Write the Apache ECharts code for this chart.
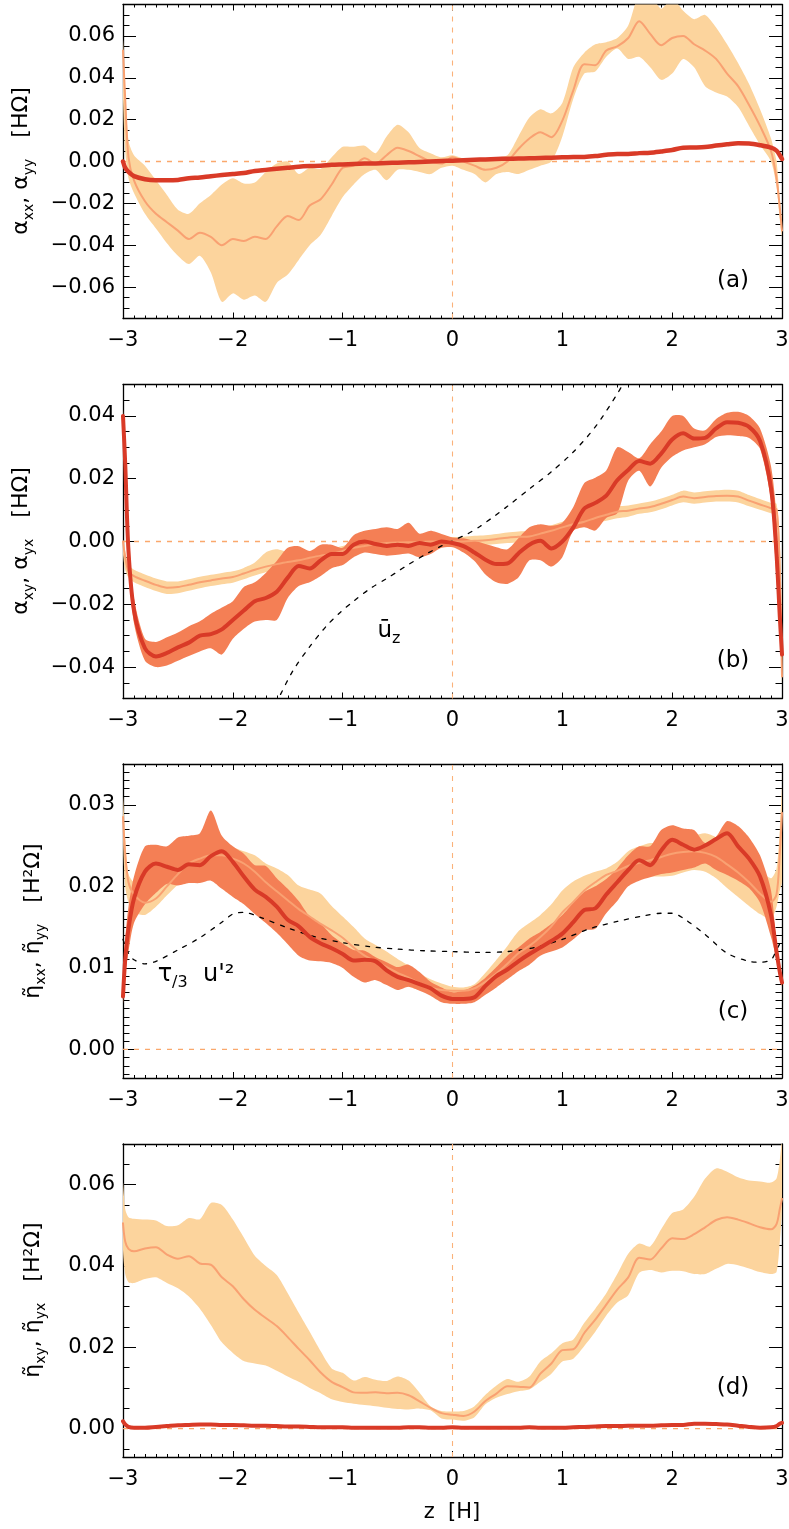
<!DOCTYPE html>
<html><head><meta charset="utf-8">
<script src="https://cdn.jsdelivr.net/npm/echarts@6/dist/echarts.min.js"></script>
<style>html,body{margin:0;padding:0;background:#fff}#c{width:789px;height:1529px}</style>
</head><body><div id="c"></div>
<script>
const zGrid = [-3, -2.98, -2.95, -2.9, -2.8, -2.7, -2.6, -2.5, -2.4, -2.3,
 -2.2, -2.1, -2.0, -1.9, -1.8, -1.7, -1.6, -1.5, -1.4, -1.3,
 -1.2, -1.1, -1.0, -0.9, -0.8, -0.7, -0.6, -0.5, -0.4, -0.3,
 -0.2, -0.1, 0, 0.1, 0.2, 0.3, 0.4, 0.5, 0.6, 0.7,
 0.8, 0.9, 1.0, 1.1, 1.2, 1.3, 1.4, 1.5, 1.6, 1.7,
 1.8, 1.9, 2.0, 2.1, 2.2, 2.3, 2.4, 2.5, 2.6, 2.7,
 2.8, 2.9, 2.95, 2.98, 3.0];
const xTicks = [-3, -2, -1, 0, 1, 2, 3];

// panel (a)
const aLightLine = [0.053, 0.03, 0.002, -0.009, -0.019, -0.025, -0.029, -0.033, -0.037, -0.034,
 -0.036, -0.040, -0.037, -0.038, -0.036, -0.037, -0.031, -0.026, -0.028, -0.021,
 -0.018, -0.011, -0.003, -0.002, 0.0015, -0.001, 0.003, 0.0066, 0.005, 0.0025,
 0.0, -0.001, 0.002, 0.0, -0.002, -0.004, -0.003, 0.0, 0.006, 0.011,
 0.014, 0.0116, 0.0195, 0.034, 0.0465, 0.046, 0.053, 0.055, 0.059, 0.067,
 0.061, 0.0555, 0.059, 0.06, 0.056, 0.053, 0.049, 0.042, 0.036, 0.027,
 0.017, 0.005, -0.008, -0.022, -0.033];
const aLightHi = [0.058, 0.035, 0.01, 0.003, -0.002, -0.009, -0.016, -0.023, -0.025, -0.020,
 -0.016, -0.011, -0.008, -0.0105, -0.010, -0.005, -0.001, 0.0, -0.006, -0.003,
 -0.0035, 0.002, 0.007, 0.007, 0.0075, 0.004, 0.012, 0.0176, 0.014, 0.0065,
 0.004, 0.002, 0.003, 0.0015, 0.0014, 0.0014, 0.002, 0.003, 0.012, 0.021,
 0.025, 0.023, 0.028, 0.045, 0.052, 0.056, 0.057, 0.059, 0.065, 0.08,
 0.08, 0.073, 0.078, 0.072, 0.068, 0.07, 0.064, 0.056, 0.047, 0.037,
 0.025, 0.011, 0.0, -0.018, -0.03];
const aLightLo = [0.03, 0.005, -0.008, -0.015, -0.025, -0.032, -0.039, -0.045, -0.049, -0.045,
 -0.053, -0.067, -0.063, -0.066, -0.064, -0.067, -0.058, -0.054, -0.047, -0.040,
 -0.035, -0.026, -0.017, -0.011, -0.006, -0.004, -0.009, -0.004, -0.004, -0.005,
 -0.006, -0.003, -0.002, -0.004, -0.006, -0.010, -0.006, -0.005, -0.006, -0.004,
 -0.002, 0.0, 0.012, 0.03, 0.042, 0.043, 0.05, 0.054, 0.049, 0.05,
 0.045, 0.039, 0.042, 0.049, 0.045, 0.036, 0.033, 0.031, 0.026, 0.017,
 0.008, 0.0, -0.012, -0.028, -0.036];
const aDarkLine = [0.0, -0.003, -0.005, -0.007, -0.0085, -0.009, -0.009, -0.0088, -0.008, -0.0076,
 -0.007, -0.0065, -0.006, -0.0055, -0.0045, -0.004, -0.0035, -0.003, -0.0025, -0.0022,
 -0.002, -0.0016, -0.0014, -0.0012, -0.001, -0.0009, -0.0007, -0.0006, -0.0004, -0.0002,
 0.0, 0.0002, 0.0004, 0.0006, 0.0008, 0.001, 0.0012, 0.0013, 0.0014, 0.0015,
 0.0017, 0.0018, 0.002, 0.0021, 0.0022, 0.0026, 0.0032, 0.0036, 0.0036, 0.004,
 0.0042, 0.0048, 0.0055, 0.0066, 0.0067, 0.0069, 0.0076, 0.0082, 0.0087, 0.0086,
 0.0078, 0.0066, 0.0052, 0.003, 0.0012];

// panel (b)
const bLightLine = [0.0, -0.005, -0.0095, -0.011, -0.0125, -0.0138, -0.0147, -0.0145, -0.0138, -0.013,
 -0.0124, -0.0118, -0.0113, -0.0102, -0.009, -0.008, -0.0072, -0.0065, -0.006, -0.0052,
 -0.0045, -0.004, -0.003, -0.002, -0.0014, -0.0009, -0.0005, -0.0003, -0.0002, -0.0002,
 0.0, 0.0, 0.0, 0.0, 0.0002, 0.0004, 0.0008, 0.0012, 0.0015, 0.0016,
 0.0025, 0.0034, 0.0045, 0.0055, 0.0063, 0.0075, 0.0085, 0.0095, 0.0098, 0.0105,
 0.011, 0.012, 0.0132, 0.0143, 0.0138, 0.0142, 0.0145, 0.0146, 0.0143, 0.013,
 0.0118, 0.0106, 0.0102, -0.01, -0.043];
const bLightHi = [0.0005, -0.003, -0.0075, -0.009, -0.0105, -0.0118, -0.0127, -0.0127, -0.012, -0.0112,
 -0.0106, -0.01, -0.0095, -0.0084, -0.0067, -0.0035, -0.0025, -0.0035, -0.0042, -0.0035,
 -0.0027, -0.0022, -0.0014, -0.0004, 0.0004, 0.0008, 0.0011, 0.0013, 0.0014, 0.0014,
 0.0015, 0.0015, 0.0014, 0.0015, 0.0018, 0.002, 0.0024, 0.0029, 0.0032, 0.0034,
 0.0043, 0.0052, 0.0063, 0.0073, 0.0081, 0.0092, 0.0101, 0.0112, 0.0115, 0.0121,
 0.0127, 0.0137, 0.0149, 0.0162, 0.0156, 0.016, 0.0163, 0.0165, 0.0162, 0.0148,
 0.0135, 0.0123, 0.012, 0.0, -0.03];
const bLightLo = [-0.004, -0.009, -0.0115, -0.013, -0.0145, -0.0158, -0.0167, -0.0165, -0.0157, -0.0149,
 -0.0142, -0.0136, -0.0131, -0.012, -0.0108, -0.0098, -0.009, -0.0083, -0.0078, -0.007,
 -0.0063, -0.0058, -0.0048, -0.0037, -0.0031, -0.0026, -0.0022, -0.002, -0.0019, -0.0018,
 -0.0016, -0.0015, -0.0014, -0.0014, -0.0013, -0.0011, -0.0008, -0.0005, -0.0002, 0.0,
 0.0008, 0.0017, 0.0028, 0.0038, 0.0046, 0.0058, 0.0066, 0.0074, 0.0079, 0.0088,
 0.0093, 0.0103, 0.0115, 0.0125, 0.012, 0.0124, 0.0127, 0.0127, 0.0124, 0.0112,
 0.0101, 0.009, 0.0085, -0.02, -0.045];
const bDarkLine = [0.040, 0.025, -0.003, -0.022, -0.034, -0.0366, -0.0355, -0.0337, -0.0322, -0.030,
 -0.0295, -0.028, -0.025, -0.022, -0.019, -0.018, -0.016, -0.0115, -0.0078, -0.0086,
 -0.006, -0.004, -0.004, -0.001, 0.0, -0.0008, -0.0014, -0.001, -0.0014, -0.0005,
 -0.001, 0.0, -0.0005, -0.0015, -0.0035, -0.0058, -0.0072, -0.007, -0.0038, -0.001,
 0.0002, -0.0022, 0.0, 0.0045, 0.0105, 0.0123, 0.0146, 0.0195, 0.0228, 0.0256,
 0.0248, 0.028, 0.0325, 0.0345, 0.0328, 0.033, 0.036, 0.038, 0.0378, 0.0365,
 0.032, 0.017, -0.004, -0.024, -0.036];
const bDarkHi = [0.042, 0.03, 0.002, -0.018, -0.031, -0.032, -0.0305, -0.029, -0.027, -0.0254,
 -0.023, -0.021, -0.019, -0.0145, -0.013, -0.01, -0.0062, -0.002, -0.0015, -0.003,
 -0.001, -0.001, -0.002, 0.002, 0.0034, 0.004, 0.0045, 0.004, 0.006, 0.0025,
 0.0034, 0.0024, 0.0013, 0.001, 0.0002, -0.0008, -0.0018, -0.0025, 0.001, 0.0045,
 0.0055, 0.005, 0.006, 0.011, 0.0186, 0.0203, 0.0226, 0.030, 0.0285, 0.0265,
 0.031, 0.035, 0.040, 0.040, 0.036, 0.0354, 0.039, 0.041, 0.0413, 0.040,
 0.036, 0.024, 0.008, -0.015, -0.033];
const bDarkLo = [0.038, 0.02, -0.007, -0.026, -0.038, -0.040, -0.0395, -0.038, -0.0365, -0.035,
 -0.034, -0.036, -0.031, -0.0278, -0.0255, -0.025, -0.025, -0.018, -0.0142, -0.013,
 -0.011, -0.0085, -0.0075, -0.005, -0.0035, -0.004, -0.0045, -0.0042, -0.0038, -0.005,
 -0.004, -0.002, -0.0018, -0.0035, -0.0062, -0.0105, -0.013, -0.0135, -0.0115, -0.006,
 -0.006, -0.008, -0.005, 0.0034, 0.0045, 0.0035, 0.0075, 0.009, 0.0194, 0.0225,
 0.0175, 0.0235, 0.027, 0.029, 0.030, 0.031, 0.0333, 0.0338, 0.0336, 0.033,
 0.0295, 0.013, -0.012, -0.03, -0.04];
const bUzZ = [-1.65, -1.57, -1.45, -1.3, -1.15, -1.02, -0.9, -0.75, -0.6, -0.51, -0.4, -0.24,
 -0.1, 0, 0.13, 0.25, 0.37, 0.5, 0.71, 0.9, 1.1, 1.3, 1.5, 1.58];
const bUz = [-0.055, -0.049, -0.041, -0.0335, -0.027, -0.0225, -0.019, -0.015, -0.0118, -0.0098, -0.0073, -0.004,
 -0.0014, 0.0003, 0.0023, 0.0048, 0.0078, 0.0112, 0.017, 0.0222, 0.0285, 0.0365, 0.047, 0.052];

// panel (c)
const cLightLine = [0.0285, 0.024, 0.0205, 0.019, 0.018, 0.0185, 0.020, 0.0215, 0.0228, 0.0234,
 0.0238, 0.0238, 0.0234, 0.0228, 0.0218, 0.0205, 0.0194, 0.0183, 0.0172, 0.0163,
 0.0154, 0.0146, 0.0137, 0.0125, 0.0115, 0.0108, 0.0101, 0.0094, 0.0088, 0.0081,
 0.0076, 0.0073, 0.0072, 0.0072, 0.0075, 0.0083, 0.0093, 0.0105, 0.0118, 0.0127,
 0.0138, 0.0151, 0.0168, 0.0181, 0.0195, 0.0205, 0.0214, 0.0219, 0.0225, 0.0229,
 0.0232, 0.0236, 0.024, 0.0242, 0.0243, 0.0241, 0.0236, 0.0227, 0.0217, 0.0205,
 0.0191, 0.0181, 0.019, 0.024, 0.029];
const cLightHi = [0.031, 0.026, 0.0215, 0.0205, 0.0205, 0.021, 0.0222, 0.0232, 0.024, 0.0245,
 0.025, 0.0252, 0.0248, 0.0243, 0.0238, 0.0228, 0.0222, 0.0214, 0.0201, 0.0196,
 0.0191, 0.0176, 0.0163, 0.015, 0.0136, 0.0128, 0.012, 0.0111, 0.0103, 0.0093,
 0.0086, 0.0081, 0.0077, 0.0076, 0.008, 0.0094, 0.011, 0.0127, 0.0145, 0.0155,
 0.0165, 0.0178, 0.0195, 0.0206, 0.0213, 0.0218, 0.0222, 0.023, 0.0243, 0.0249,
 0.0253, 0.0253, 0.0254, 0.0258, 0.0262, 0.0265, 0.026, 0.0248, 0.0238, 0.0229,
 0.0219, 0.021, 0.0222, 0.027, 0.032];
const cLightLo = [0.026, 0.02, 0.018, 0.0168, 0.0165, 0.0175, 0.0189, 0.0202, 0.0212, 0.0218,
 0.022, 0.022, 0.0218, 0.0207, 0.0192, 0.018, 0.0168, 0.0158, 0.0148, 0.0142,
 0.0137, 0.013, 0.0121, 0.011, 0.0102, 0.0094, 0.0088, 0.0082, 0.0077, 0.0073,
 0.0069, 0.0066, 0.0063, 0.0063, 0.0066, 0.0073, 0.0082, 0.0093, 0.0106, 0.0113,
 0.0122, 0.0131, 0.0145, 0.0159, 0.017, 0.018, 0.0189, 0.0198, 0.0207, 0.021,
 0.0212, 0.0212, 0.0213, 0.0217, 0.022, 0.0218, 0.021, 0.0198, 0.0187, 0.0176,
 0.0166, 0.016, 0.0175, 0.0195, 0.0205];
const cDarkLine = [0.0065, 0.011, 0.0148, 0.0185, 0.0218, 0.0228, 0.0224, 0.022, 0.0227, 0.0226,
 0.0237, 0.0243, 0.0230, 0.0212, 0.0196, 0.0187, 0.0175, 0.0159, 0.0151, 0.0138,
 0.013, 0.0124, 0.0117, 0.0109, 0.011, 0.0108, 0.0097, 0.0089, 0.0085, 0.008,
 0.0075, 0.0066, 0.0062, 0.0062, 0.0064, 0.0078, 0.009, 0.0098, 0.0108, 0.0117,
 0.0125, 0.0133, 0.0142, 0.0156, 0.0171, 0.0173, 0.019, 0.0205, 0.022, 0.0232,
 0.0226, 0.0244, 0.0257, 0.0251, 0.0245, 0.025, 0.0258, 0.0265, 0.0249, 0.0234,
 0.0212, 0.0165, 0.012, 0.0095, 0.0082];
const cDarkHi = [0.008, 0.0135, 0.0175, 0.0212, 0.0249, 0.0251, 0.0249, 0.026, 0.0262, 0.0265,
 0.0293, 0.0262, 0.0249, 0.024, 0.0226, 0.0225, 0.021, 0.0197, 0.0182, 0.0163,
 0.0154, 0.014, 0.013, 0.0122, 0.0121, 0.0113, 0.0107, 0.0101, 0.0104, 0.0095,
 0.0083, 0.0076, 0.007, 0.0072, 0.0078, 0.0088, 0.0101, 0.0115, 0.0125, 0.0136,
 0.0144, 0.0154, 0.0165, 0.018, 0.0193, 0.02, 0.0209, 0.0222, 0.0238, 0.0249,
 0.0249, 0.0269, 0.0275, 0.0271, 0.0269, 0.0253, 0.0261, 0.028, 0.0274, 0.026,
 0.0238, 0.0195, 0.013, 0.01, 0.0085];
const cDarkLo = [0.0055, 0.009, 0.012, 0.0155, 0.0178, 0.0192, 0.0203, 0.0201, 0.0204, 0.0204,
 0.0207, 0.0197, 0.0187, 0.0178, 0.0166, 0.0155, 0.0143, 0.0129, 0.0115, 0.0109,
 0.0108, 0.0106, 0.01, 0.0089, 0.0082, 0.0085, 0.0079, 0.0073, 0.0077, 0.0072,
 0.0066, 0.0058, 0.0056, 0.0056, 0.0058, 0.0067, 0.0076, 0.0086, 0.0096, 0.0104,
 0.0115, 0.012, 0.0125, 0.0135, 0.0146, 0.0148, 0.0167, 0.0182, 0.02, 0.0207,
 0.0211, 0.0215, 0.0217, 0.022, 0.0223, 0.0228, 0.022, 0.0214, 0.0207, 0.0198,
 0.018, 0.0138, 0.011, 0.0085, 0.0078];
const cTauZ = [-3, -2.95, -2.9, -2.8, -2.7, -2.5, -2.3, -2.1, -2.0, -1.9, -1.75, -1.5, -1.25, -1.0, -0.75, -0.5, -0.25,
 0, 0.25, 0.5, 0.75, 1.0, 1.25, 1.5, 1.75, 1.9, 2.0, 2.1, 2.3, 2.5, 2.7, 2.8, 2.9, 2.95, 3.0];
const cTau = [0.0135, 0.0118, 0.011, 0.0105, 0.0108, 0.0122, 0.0137, 0.0156, 0.0166, 0.0168, 0.0162, 0.0149, 0.0138, 0.0131, 0.0126, 0.0123, 0.0121,
 0.012, 0.0119, 0.012, 0.0125, 0.0135, 0.0148, 0.0157, 0.0164, 0.0167, 0.0167, 0.0161, 0.0141, 0.0118, 0.0108, 0.0107, 0.011, 0.0122, 0.0135];

// panel (d)
const dLightLine = [0.0505, 0.046, 0.0442, 0.0436, 0.0443, 0.0446, 0.0428, 0.0418, 0.0424, 0.0406,
 0.0403, 0.0372, 0.035, 0.0318, 0.0292, 0.0272, 0.0252, 0.0225, 0.0196, 0.0168,
 0.0138, 0.0115, 0.0102, 0.0089, 0.0088, 0.0089, 0.0087, 0.0088, 0.0082, 0.0067,
 0.0051, 0.0038, 0.0034, 0.0031, 0.0042, 0.0068, 0.0086, 0.0104, 0.0103, 0.0101,
 0.0135, 0.016, 0.0193, 0.0195, 0.0235, 0.0268, 0.0305, 0.0342, 0.0372, 0.042,
 0.0416, 0.0443, 0.0468, 0.0466, 0.0478, 0.0495, 0.0513, 0.052, 0.0514, 0.0505,
 0.0495, 0.049, 0.0503, 0.054, 0.0565];
const dLightHi = [0.0604, 0.054, 0.052, 0.0516, 0.0514, 0.0512, 0.0498, 0.05, 0.0518, 0.0515,
 0.0555, 0.055, 0.0514, 0.047, 0.0425, 0.040, 0.0378, 0.0333, 0.0285, 0.0238,
 0.019, 0.0148, 0.0137, 0.0118, 0.0127, 0.012, 0.0117, 0.0128, 0.0118, 0.0088,
 0.0055, 0.0043, 0.0042, 0.0043, 0.0055, 0.0083, 0.0106, 0.0122, 0.0115, 0.0128,
 0.0165, 0.0185, 0.021, 0.0219, 0.026, 0.0295, 0.0333, 0.038, 0.043, 0.0455,
 0.0448, 0.049, 0.053, 0.0539, 0.057, 0.0615, 0.064, 0.0632, 0.0618, 0.061,
 0.0608, 0.0605, 0.0615, 0.066, 0.071];
const dLightLo = [0.044, 0.038, 0.036, 0.0358, 0.0368, 0.0372, 0.0358, 0.0345, 0.0325, 0.0295,
 0.0255, 0.0212, 0.0186, 0.0166, 0.016, 0.0155, 0.0142, 0.0128, 0.0115, 0.01,
 0.0087, 0.0072, 0.0065, 0.0061, 0.0058, 0.0055, 0.0051, 0.0048, 0.0047, 0.0049,
 0.0045, 0.0025, 0.0022, 0.0019, 0.0028, 0.006, 0.0076, 0.0085, 0.0092, 0.0096,
 0.0115, 0.0135, 0.0165, 0.0172, 0.0203, 0.0238, 0.0278, 0.031, 0.0328, 0.0383,
 0.039, 0.0384, 0.0388, 0.0387, 0.038, 0.038, 0.0393, 0.0405, 0.0402, 0.0394,
 0.0385, 0.038, 0.0385, 0.046, 0.054];
const dDarkLine = [0.0018, 0.001, 0.0004, 0.0002, 0.0002, 0.0004, 0.0006, 0.0008, 0.0009, 0.001,
 0.001, 0.0009, 0.0009, 0.0008, 0.0007, 0.0007, 0.0006, 0.0005, 0.0005, 0.0004,
 0.0003, 0.0003, 0.0003, 0.0002, 0.0002, 0.0002, 0.0002, 0.0002, 0.0003, 0.0003,
 0.0002, 0.0002, 0.0003, 0.0002, 0.0002, 0.0002, 0.0002, 0.0002, 0.0002, 0.0003,
 0.0002, 0.0002, 0.0002, 0.0003, 0.0004, 0.0005, 0.0006, 0.0006, 0.0007, 0.0007,
 0.0007, 0.0008, 0.0009, 0.0009, 0.0012, 0.0012, 0.0011, 0.001, 0.0007, 0.0004,
 0.0002, 0.0003, 0.0006, 0.0012, 0.0014];

// axis settings per panel
const yMins = [-0.075, -0.05, -0.0035, -0.007];
const yMaxs = [0.075, 0.05, 0.035, 0.07];
const yIntervals = [0.02, 0.02, 0.01, 0.02];
const yMinorSplits = [4, 4, 10, 4];
const gridTops = [4.5, 384.5, 764, 1144];
const gridHeights = [314, 314, 314, 313];

const FONT = '"DejaVu Sans", sans-serif';
const C_LBAND = '#fcd49d', C_LLINE = '#f9a172', C_DBAND = '#f47f55', C_DLINE = '#d93a27', C_ZERO = '#fbb27a';

const fmtY = v => (v < -1e-9 ? '\u2212' : '') + Math.abs(v).toFixed(2);
const fmtX = v => (v < 0 ? '\u2212' : '') + Math.abs(v);

const grids = [], xAxes = [], yAxes = [];
for (let g = 0; g < 4; g++) {
  grids.push({ left: 123, right: 7, top: gridTops[g], height: gridHeights[g], outerBoundsMode: 'none', containLabel: false, show: false });
  ['bottom', 'top'].forEach((pos, k) => {
    xAxes.push({
      type: 'value', gridIndex: g, position: pos, min: xTicks[0], max: xTicks[xTicks.length - 1], interval: 1,
      axisLine: { show: true, onZero: false, lineStyle: { color: '#000', width: 1.3 } },
      axisTick: { show: true, inside: true, length: 6, lineStyle: { color: '#000', width: 1 } },
      minorTick: { show: true, splitNumber: 10, length: 3, lineStyle: { color: '#000', width: 1 } },
      splitLine: { show: false }, minorSplitLine: { show: false }, axisPointer: { show: false },
      axisLabel: { show: k === 0, formatter: fmtX, color: '#000', fontSize: 21, fontFamily: FONT, margin: 12 }
    });
  });
  ['left', 'right'].forEach((pos, k) => {
    const iv = yIntervals[g];
    yAxes.push({
      type: 'value', gridIndex: g, position: pos, min: yMins[g], max: yMaxs[g],
      splitNumber: Math.round((yMaxs[g] - yMins[g]) / iv), minInterval: iv, maxInterval: iv,
      axisLine: { show: true, onZero: false, lineStyle: { color: '#000', width: 1.3 } },
      axisTick: { show: true, inside: true, length: 13, lineStyle: { color: '#000', width: 1 } },
      minorTick: { show: true, splitNumber: yMinorSplits[g], length: 6.5, lineStyle: { color: '#000', width: 1 } },
      splitLine: { show: false }, minorSplitLine: { show: false }, axisPointer: { show: false },
      axisLabel: { show: k === 0, showMinLabel: false, showMaxLabel: false, formatter: fmtY, color: '#000', fontSize: 21, fontFamily: FONT, margin: 8 }
    });
  });
}

function pairs(zs, vs) { return zs.map((z, i) => [z, vs[i]]); }

function bandSeries(g, lo, hi, color, zz) {
  const data = zGrid.map((z, i) => [z, lo[i], hi[i]]);
  return {
    type: 'custom', xAxisIndex: 2 * g, yAxisIndex: 2 * g, z: zz, silent: true, clip: true,
    data: data, encode: { x: 0, y: [1, 2] },
    renderItem: function (params, api) {
      if (params.dataIndex !== 0) return;
      const up = [], dn = [];
      for (let i = 0; i < data.length; i++) {
        up.push(api.coord([data[i][0], data[i][2]]));
        dn.push(api.coord([data[i][0], data[i][1]]));
      }
      return { type: 'polygon', shape: { points: up.concat(dn.reverse()), smooth: 0.25 }, style: { fill: color, stroke: null } };
    }
  };
}
function lineSeries(g, zs, vs, color, width, zz, dash) {
  return {
    type: 'line', xAxisIndex: 2 * g, yAxisIndex: 2 * g, z: zz, silent: true, clip: true,
    data: pairs(zs, vs), symbol: 'none', smooth: 0.3,
    lineStyle: { color: color, width: width, type: dash || 'solid', cap: 'round', join: 'round' }
  };
}
// dashed reference lines at z = 0 and value = 0
function zeroSeries(g) {
  const base = { type: 'line', xAxisIndex: 2 * g, yAxisIndex: 2 * g, z: 1, silent: true, symbol: 'none', smooth: false,
    itemStyle: { color: C_ZERO } };
  return [
    Object.assign({}, base, { data: [[0, yMins[g]], [0, yMaxs[g]]], lineStyle: { color: C_ZERO, type: [5, 6], width: 1.1 } }),
    Object.assign({}, base, { data: [[xTicks[0], 0], [xTicks[xTicks.length - 1], 0]], lineStyle: { color: '#faa86c', type: [5, 6], width: 1.3 } })
  ];
}

const series = [].concat(
  zeroSeries(0), [bandSeries(0, aLightLo, aLightHi, C_LBAND, 2),
  lineSeries(0, zGrid, aLightLine, C_LLINE, 2, 5), lineSeries(0, zGrid, aDarkLine, C_DLINE, 4.5, 6)],

  zeroSeries(1), [bandSeries(1, bLightLo, bLightHi, C_LBAND, 2), bandSeries(1, bDarkLo, bDarkHi, C_DBAND, 3),
  lineSeries(1, bUzZ, bUz, '#000', 1.3, 4, [4, 7]),
  lineSeries(1, zGrid, bLightLine, C_LLINE, 2, 5), lineSeries(1, zGrid, bDarkLine, C_DLINE, 4, 6)],

  zeroSeries(2), [bandSeries(2, cLightLo, cLightHi, C_LBAND, 2), bandSeries(2, cDarkLo, cDarkHi, C_DBAND, 3),
  lineSeries(2, cTauZ, cTau, '#000', 1.3, 4, [4, 7]),
  lineSeries(2, zGrid, cLightLine, C_LLINE, 2, 5), lineSeries(2, zGrid, cDarkLine, C_DLINE, 4, 6)],

  zeroSeries(3), [bandSeries(3, dLightLo, dLightHi, C_LBAND, 2),
  lineSeries(3, zGrid, dLightLine, C_LLINE, 2, 5), lineSeries(3, zGrid, dDarkLine, C_DLINE, 4, 6)]
);

function txt(x, y, text, size, rot, subSize) {
  return { type: 'text', x: x, y: y, rotation: rot || 0, silent: true, z: 100,
    style: { text: text,
      rich: { m: { fontSize: size, fontFamily: FONT, lineHeight: Math.round(size * 1.35), fill: '#000' },
              s: { fontSize: subSize || 14, fontFamily: FONT, verticalAlign: 'bottom', fill: '#000' } },
      fontSize: size, fontFamily: FONT, fill: '#000',
      align: 'center', verticalAlign: 'middle', textAlign: 'center', textVerticalAlign: 'middle' } };
}
const graphic = [
  txt(21, 161, '{m|\u03b1}{s|xx}{m|, \u03b1}{s|yy}{m|   [H\u03a9]}', 22, Math.PI / 2),
  txt(21, 541, '{m|\u03b1}{s|xy}{m|, \u03b1}{s|yx}{m|   [H\u03a9]}', 22, Math.PI / 2),
  txt(33, 921, '{m|\u03b7\u0303}{s|xx}{m|, \u03b7\u0303}{s|yy}{m|   [H\u00b2\u03a9]}', 22, Math.PI / 2),
  txt(33, 1300, '{m|\u03b7\u0303}{s|xy}{m|, \u03b7\u0303}{s|yx}{m|   [H\u00b2\u03a9]}', 22, Math.PI / 2),
  txt(733, 281, '{m|(a)}', 23), txt(733, 661, '{m|(b)}', 23), txt(733, 1012, '{m|(c)}', 23), txt(733, 1388, '{m|(d)}', 23),
  txt(389, 631, '{m|\u016b}{s|z}', 23, 0, 16),
  txt(196, 975, "{m|\u03c4}{s|/3}{m|  u'\u00b2}", 24, 0, 16),
  txt(452, 1513, '{m|z  [H]}', 21)
];

const chart = echarts.init(document.getElementById('c'), null, { renderer: 'canvas', width: 789, height: 1529 });
chart.setOption({
  animation: false, backgroundColor: '#fff',
  textStyle: { fontFamily: FONT }, tooltip: { show: false }, axisPointer: { show: false },
  grid: grids, xAxis: xAxes, yAxis: yAxes, series: series, graphic: graphic
});
</script>
</body></html>
